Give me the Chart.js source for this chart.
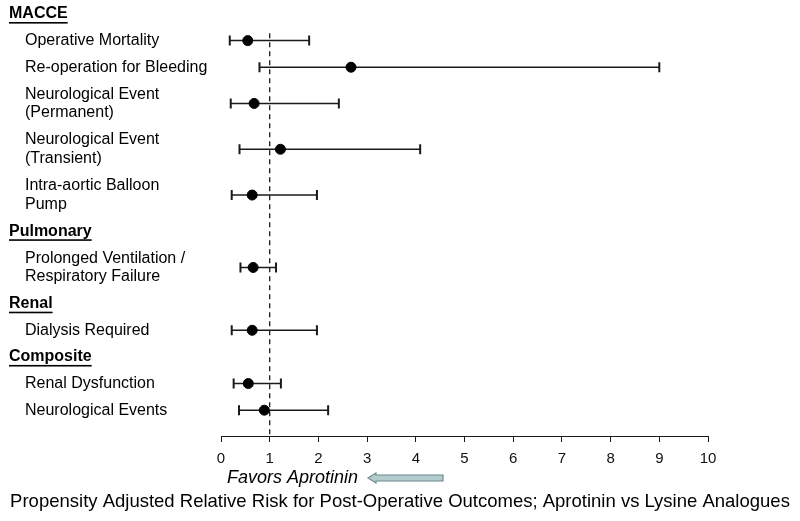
<!DOCTYPE html>
<html>
<head>
<meta charset="utf-8">
<script src="https://cdn.jsdelivr.net/npm/chart.js@4"></script>
<style>
    body { margin: 0; background: #fff; }
    canvas { display: block; }
</style>
</head>
<body>
<canvas id="forestChart" width="800" height="521"></canvas>
<script>
// ===== DATA =====
const rowLabels = [
    ["MACCE"],
    ["Operative Mortality"],
    ["Re-operation for Bleeding"],
    ["Neurological Event", "(Permanent)"],
    ["Neurological Event", "(Transient)"],
    ["Intra-aortic Balloon", "Pump"],
    ["Pulmonary"],
    ["Prolonged Ventilation /", "Respiratory Failure"],
    ["Renal"],
    ["Dialysis Required"],
    ["Composite"],
    ["Renal Dysfunction"],
    ["Neurological Events"]
];
const isHeader = [true, false, false, false, false, false, true, false, true, false, true, false, false];
const relRisk  = [null, 0.55, 2.67, 0.68, 1.22, 0.64, null, 0.66, null, 0.64, null, 0.56, 0.89];
const ciLow    = [null, 0.18, 0.79, 0.20, 0.38, 0.22, null, 0.40, null, 0.22, null, 0.26, 0.37];
const ciHigh   = [null, 1.81, 9.00, 2.42, 4.09, 1.97, null, 1.13, null, 1.97, null, 1.23, 2.20];
const xTicks   = [0, 1, 2, 3, 4, 5, 6, 7, 8, 9, 10];
const refValue = 1;

const favorsText = "Favors Aprotinin";
const titleText = "Propensity Adjusted Relative Risk for Post-Operative Outcomes; Aprotinin vs Lysine Analogues";

// row positions come from how many text lines each label has
const rowSize = rowLabels.map(l => l.length === 1 ? 1 : 1.72);
const rowPos = [];
rowLabels.forEach((l, i) => {
    rowPos.push(i === 0 ? 0 : rowPos[i - 1] + (rowSize[i - 1] + rowSize[i]) / 2);
});

const FONT = '"Liberation Sans", Arial, sans-serif';
const INK = "#1a1a1a";

/* ===== PLUGIN: labels, whiskers, reference line ===== */
const forestPlugin = {
    id: "forest",
    beforeDatasetsDraw(chart) {
        const { ctx, chartArea, scales: { x, y } } = chart;
        ctx.save();

        // reference line at RR = 1
        const xr = x.getPixelForValue(refValue);
        ctx.strokeStyle = INK;
        ctx.lineWidth = 1.3;
        ctx.setLineDash([5, 4]);
        ctx.beginPath();
        ctx.moveTo(xr, y.getPixelForValue(0.72));
        ctx.lineTo(xr, chartArea.bottom);
        ctx.stroke();
        ctx.setLineDash([]);

        // confidence intervals
        relRisk.forEach((v, i) => {
            if (v === null) return;
            const py = y.getPixelForValue(rowPos[i]);
            const x1 = x.getPixelForValue(ciLow[i]);
            const x2 = x.getPixelForValue(ciHigh[i]);
            ctx.lineWidth = 1.5;
            ctx.beginPath();
            ctx.moveTo(x1, py);
            ctx.lineTo(x2, py);
            ctx.stroke();
            ctx.lineWidth = 2;
            ctx.beginPath();
            ctx.moveTo(x1, py - 5);
            ctx.lineTo(x1, py + 5);
            ctx.moveTo(x2, py - 5);
            ctx.lineTo(x2, py + 5);
            ctx.stroke();
        });
        ctx.restore();
    },
    afterDraw(chart) {
        const { ctx, chartArea, scales: { x, y } } = chart;
        ctx.save();
        ctx.fillStyle = "#000";
        ctx.textBaseline = "middle";
        ctx.textAlign = "left";

        rowLabels.forEach((lines, i) => {
            const py = y.getPixelForValue(rowPos[i]);
            const head = isHeader[i];
            ctx.font = (head ? "bold " : "") + "16px " + FONT;
            const left = head ? 9 : 25;
            lines.forEach((t, k) => {
                const ly = py + (k - (lines.length - 1) / 2) * 18.5;
                ctx.fillText(t, left, ly);
                if (head) {
                    const w = ctx.measureText(t).width;
                    ctx.fillRect(left, ly + 8, w, 1.6);
                }
            });
        });

        // favors label + arrow
        const by = chartArea.bottom + 42;
        ctx.font = "italic 18px " + FONT;
        ctx.fillText(favorsText, 227, by);
        const ax1 = 368, ax2 = 443;
        ctx.fillStyle = "#b4cccd";
        ctx.strokeStyle = "#6a8a8d";
        ctx.lineWidth = 1.2;
        ctx.beginPath();
        ctx.moveTo(ax1, by);
        ctx.lineTo(ax1 + 8, by - 5);
        ctx.lineTo(ax1 + 8, by - 3);
        ctx.lineTo(ax2, by - 3);
        ctx.lineTo(ax2, by + 3);
        ctx.lineTo(ax1 + 8, by + 3);
        ctx.lineTo(ax1 + 8, by + 5);
        ctx.closePath();
        ctx.fill();
        ctx.stroke();

        // bottom title
        ctx.fillStyle = "#000";
        ctx.font = "18.5px " + FONT;
        ctx.textAlign = "center";
        ctx.fillText(titleText, 400, chartArea.bottom + 66);
        ctx.restore();
    }
};

// ===== CHART =====
const ctx = document.getElementById("forestChart").getContext("2d");

const points = [];
relRisk.forEach((v, i) => {
    if (v !== null) points.push({ x: v, y: rowPos[i] });
});

new Chart(ctx, {
    type: "scatter",
    data: {
        datasets: [{
            label: "Relative Risk",
            data: points,
            backgroundColor: "#000",
            borderColor: "#000",
            pointRadius: 5,
            pointHoverRadius: 5
        }]
    },
    options: {
        responsive: false,
        animation: false,
        layout: { padding: { top: 14, left: 221, right: 92, bottom: 45 } },
        plugins: {
            legend: { display: false },
            tooltip: { enabled: false }
        },
        scales: {
            x: {
                type: "linear",
                min: 0,
                max: 10,
                afterBuildTicks: scale => {
                    scale.ticks = xTicks.map(v => ({ value: v }));
                },
                ticks: {
                    color: "#111",
                    padding: 8,
                    font: { family: FONT, size: 15 }
                },
                grid: {
                    drawOnChartArea: false,
                    color: INK,
                    tickLength: 6
                },
                border: { color: INK, width: 1 }
            },
            y: {
                type: "linear",
                display: false,
                reverse: true,
                min: 0,
                max: rowPos[rowPos.length - 1] + 0.97
            }
        }
    },
    plugins: [forestPlugin]
});
</script>
</body>
</html>
